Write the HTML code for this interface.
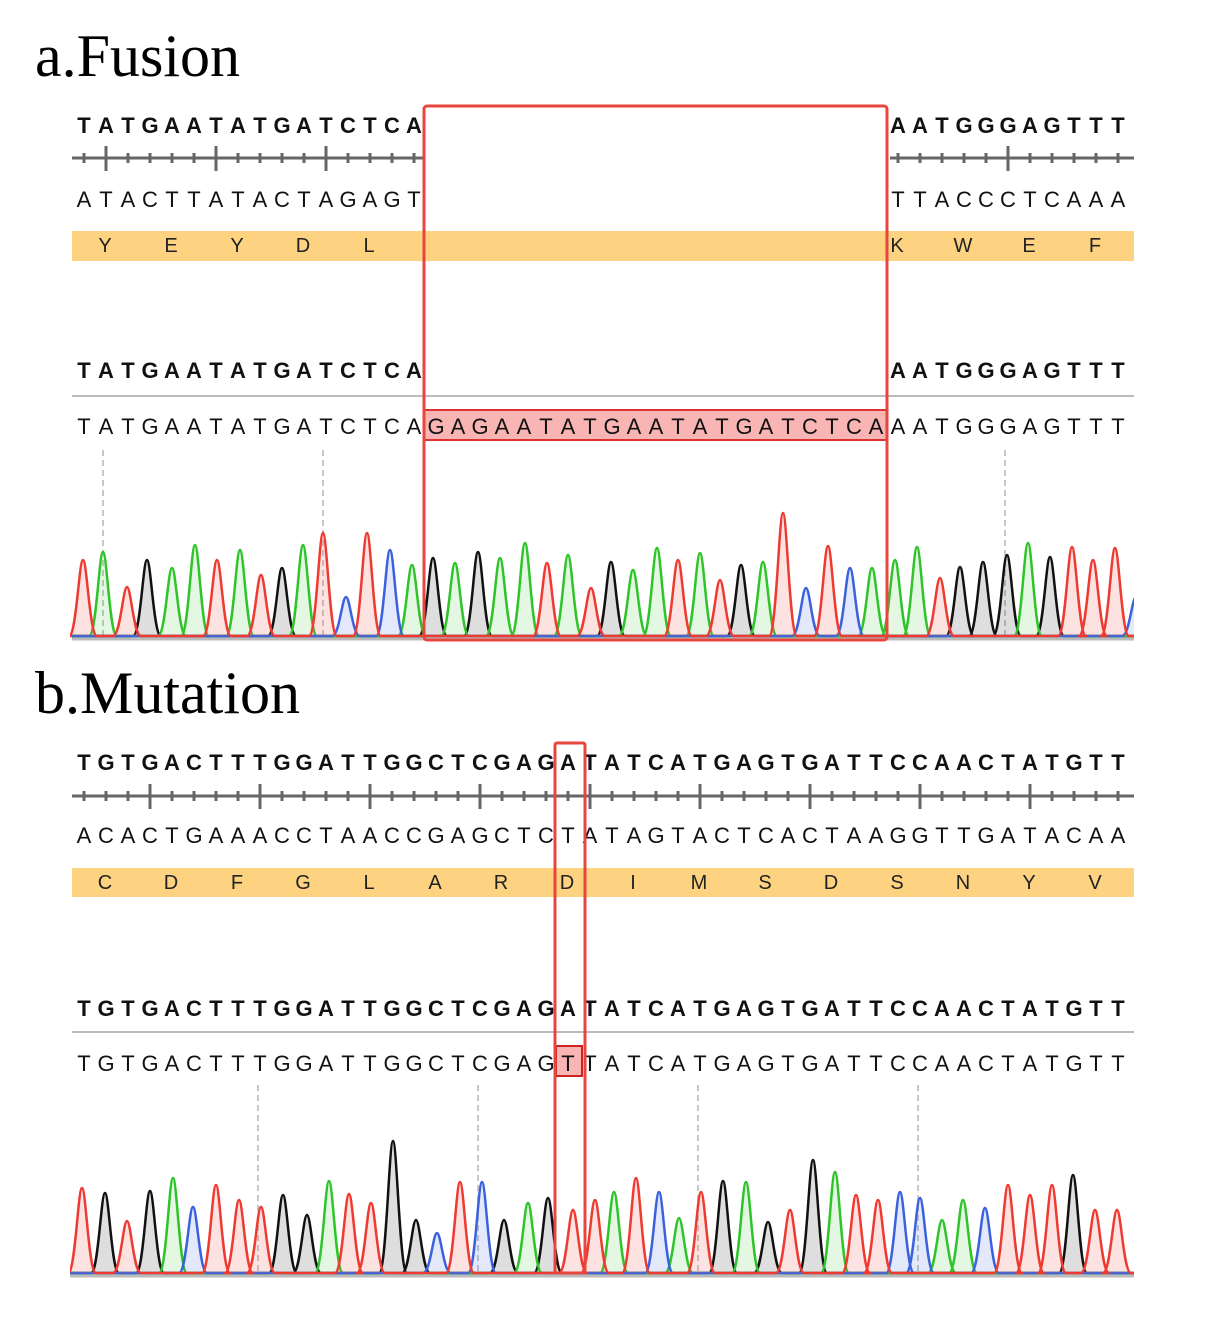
<!DOCTYPE html>
<html><head><meta charset="utf-8"><style>
html,body{margin:0;padding:0;background:#fff;}
svg{display:block;}
</style></head><body>
<svg id="s" width="1206" height="1325" xmlns="http://www.w3.org/2000/svg" font-family="Liberation Sans, sans-serif">
<defs><clipPath id="cp"><rect x="70" y="0" width="1064" height="1325"/></clipPath></defs>
<text x="35" y="76" font-family="Liberation Serif, serif" font-size="60">a.Fusion</text>
<text x="35" y="713" font-family="Liberation Serif, serif" font-size="60">b.Mutation</text>
</svg>
<script>
var S=document.getElementById('s'),NS='http://www.w3.org/2000/svg';
function el(t,a,txt,par){var e=document.createElementNS(NS,t);for(var k in a)e.setAttribute(k,a[k]);if(txt!=null)e.textContent=txt;(par||S).appendChild(e);return e;}
function seq(str,y,bold,startIdx){for(var i=0;i<str.length;i++){var c=str[i];if(c==' ')continue;var x=84+22*(startIdx+i);if(x>1134)continue;el('text',{x:x,y:y,'text-anchor':'middle','font-size':22,'font-weight':bold?'bold':'normal',fill:'#111'},c);}}
function ruler(y,x1,x2,majors){el('line',{x1:x1,y1:y,x2:x2,y2:y,stroke:'#666','stroke-width':3});
 for(var x=40;x<=1134;x+=22){if(x<x1||x>x2)continue;var M=majors.some(function(m){return Math.abs(m-x)<3});
 el('line',{x1:x,y1:M?y-12:y-5,x2:x,y2:M?y+13:y+5,stroke:'#666','stroke-width':3});}}
function band(y,h,letters,x0){el('rect',{x:72,y:y,width:1062,height:h,fill:'#fdd382'});letters.forEach(function(l,i){if(l)el('text',{x:x0+66*i,y:y+21,'text-anchor':'middle','font-size':20,fill:'#222'},l);});}
var col={r:'#ee3a30',g:'#2ec42a',b:'#3b62dc',k:'#111'},fill={r:'rgba(240,100,90,0.18)',g:'rgba(60,200,60,0.14)',b:'rgba(80,110,230,0.16)',k:'rgba(60,60,60,0.17)'};
function chrom(base,x1,x2,peaks){var order=['k','g','b','r'];var g=el('g',{'clip-path':'url(#cp)'});
 order.forEach(function(c){var d='M'+x1+' '+(base-1);peaks.filter(function(p){return p[2]==c}).forEach(function(p){var x=p[0],t=p[1],w=12;
  d+=' L'+(x-w-2)+' '+(base-1)+' C'+(x-w*0.55)+' '+(base-1)+' '+(x-4)+' '+t+' '+x+' '+t+' C'+(x+4)+' '+t+' '+(x+w*0.55)+' '+(base-1)+' '+(x+w+2)+' '+(base-1);});
  d+=' L'+x2+' '+(base-1);
  el('path',{d:d+' Z',fill:fill[c],stroke:'none'},null,g);el('path',{d:d,fill:'none',stroke:col[c],'stroke-width':2.5,'stroke-linejoin':'round'},null,g);});
 el('line',{x1:x1,y1:base+2,x2:x2,y2:base+2,stroke:'#bbb','stroke-width':3});}
function dash(x,y1,y2){el('line',{x1:x,y1:y1,x2:x,y2:y2,stroke:'#c8c8c8','stroke-width':2,'stroke-dasharray':'6,4'});}
// ===== Fusion
seq('TATGAATATGATCTCA',133,true,0);seq('AATGGGAGTTTT',133,true,37);
ruler(158,72,425,[105,215,325]);ruler(158,890,1134,[1007]);
seq('ATACTTATACTAGAGT',207,false,0);seq('TTACCCTCAAAA',207,false,37);
band(231,30,['Y','E','Y','D','L'],105);
['K','W','E','F'].forEach(function(l,i){el('text',{x:897+66*i,y:252,'text-anchor':'middle','font-size':20,fill:'#222'},l)});
seq('TATGAATATGATCTCA',378,true,0);seq('AATGGGAGTTTT',378,true,37);
el('line',{x1:72,y1:396,x2:1134,y2:396,stroke:'#bbb','stroke-width':2});
el('rect',{x:424,y:410,width:463,height:30,fill:'#f9b4b4',stroke:'#d33','stroke-width':2});
seq('TATGAATATGATCTCAGAGAATATGAATATGATCTCAAATGGGAGTTTT',434,false,0);
[103,323,1005].forEach(function(x){dash(x,450,637)});
chrom(637,72,1134,[[83,560,'r'],[103,552,'g'],[127,587,'r'],[147,560,'k'],[172,568,'g'],[195,545,'g'],[217,560,'r'],[240,550,'g'],[261,575,'r'],[282,568,'k'],[303,545,'g'],[323,533,'r'],[346,597,'b'],[367,533,'r'],[390,550,'b'],[412,565,'g'],[433,558,'k'],[455,563,'g'],[478,552,'k'],[500,558,'g'],[525,543,'g'],[547,563,'r'],[568,555,'g'],[591,588,'r'],[611,562,'k'],[633,570,'g'],[657,548,'g'],[678,560,'r'],[700,553,'g'],[720,580,'r'],[741,565,'k'],[763,562,'g'],[783,513,'r'],[806,588,'b'],[828,546,'r'],[850,568,'b'],[872,568,'g'],[895,560,'g'],[917,547,'g'],[940,578,'r'],[960,567,'k'],[983,562,'k'],[1007,555,'k'],[1028,543,'g'],[1050,557,'k'],[1072,547,'r'],[1093,560,'r'],[1115,548,'r'],[1136,597,'b']]);
el('rect',{x:424,y:106,width:463,height:534,fill:'none',stroke:'#e8453c','stroke-width':3,rx:3});
// ===== Mutation
var topSeq='TGTGACTTTGGATTGGCTCGAGATATCATGAGTGATTCCAACTATGTTT';
seq(topSeq,770,true,0);
ruler(796,72,1134,[40,150,260,370,480,590,700,810,920,1030]);
seq('ACACTGAAACCTAACCGAGCTCTATAGTACTCACTAAGGTTGATACAAA',843,false,0);
band(868,29,['C','D','F','G','L','A','R','D','I','M','S','D','S','N','Y','V'],105);
seq(topSeq,1016,true,0);
el('line',{x1:72,y1:1032,x2:1134,y2:1032,stroke:'#bbb','stroke-width':2});
el('rect',{x:556,y:1046,width:26,height:30,fill:'#f9b4b4',stroke:'#c22','stroke-width':2});
seq('TGTGACTTTGGATTGGCTCGAGTTATCATGAGTGATTCCAACTATGTTT',1071,false,0);
[258,478,698,918].forEach(function(x){dash(x,1085,1273)});
chrom(1274,70,1134,[[82,1188,'r'],[105,1193,'k'],[127,1221,'r'],[150,1191,'k'],[173,1178,'g'],[193,1207,'b'],[216,1185,'r'],[239,1200,'r'],[261,1207,'r'],[283,1195,'k'],[307,1215,'k'],[329,1181,'g'],[349,1194,'r'],[371,1203,'r'],[393,1141,'k'],[416,1220,'k'],[437,1233,'b'],[460,1182,'r'],[482,1182,'b'],[504,1220,'k'],[528,1203,'g'],[548,1198,'k'],[573,1210,'r'],[595,1200,'r'],[614,1192,'g'],[636,1178,'r'],[659,1192,'b'],[679,1218,'g'],[701,1192,'r'],[723,1181,'k'],[746,1182,'g'],[768,1222,'k'],[790,1210,'r'],[813,1160,'k'],[835,1172,'g'],[856,1195,'r'],[878,1200,'r'],[900,1192,'b'],[920,1198,'b'],[942,1220,'g'],[963,1200,'g'],[985,1208,'b'],[1008,1185,'r'],[1030,1195,'r'],[1052,1185,'r'],[1073,1175,'k'],[1095,1210,'r'],[1117,1210,'r']]);
el('rect',{x:555,y:743,width:30,height:530,fill:'none',stroke:'#e8453c','stroke-width':3,rx:2});
</script>
</body></html>
